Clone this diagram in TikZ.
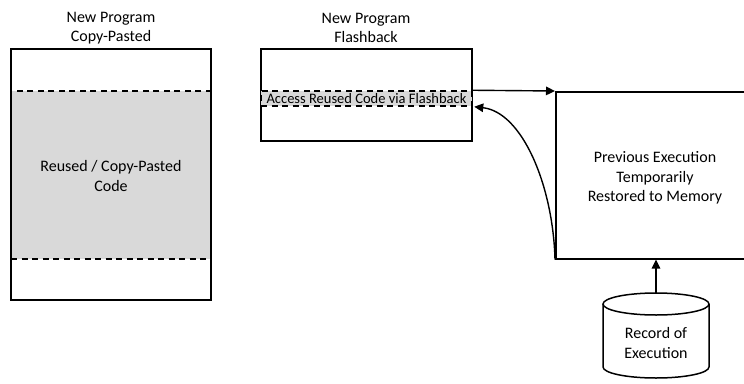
\documentclass[tikz,border=0pt]{standalone}
\usepackage{fontspec}
\setmainfont{Carlito}
\usetikzlibrary{arrows.meta}
\definecolor{shade}{HTML}{D9D9D9}
\tikzset{
  box/.style={draw=black, line width=1.5pt},
  dashbox/.style={draw=black, fill=shade, line width=1.5pt, dash pattern=on 6pt off 4.5pt},
  label/.style={align=center, font=\fontsize{16}{19.3}\selectfont, inner sep=0pt},
  arr/.style={line width=1.4pt, -{Triangle[length=9pt,width=8.5pt]}},
}
\begin{document}
\begin{tikzpicture}[x=1pt, y=-1pt]
\useasboundingbox (0,0) rectangle (744,383);
\clip (0,0) rectangle (744,383);

% left column: copy-pasted program
\node[label] (t1) at (111,28) {New Program\\Copy-Pasted};
\node[dashbox, minimum width=200pt, minimum height=168pt, inner sep=0pt] (reuse) at (111,175) {};
\node[box, minimum width=200pt, minimum height=251pt, inner sep=0pt] (prog1) at (111,174.5) {};
\node[label] (reusetxt) at (111,176) {Reused / Copy-Pasted\\Code};

% middle column: program using flashback
\node[label] (t2) at (366,28) {New Program\\Flashback};
\node[box, minimum width=211pt, minimum height=92pt, inner sep=0pt] (prog2) at (366.5,95) {};
\node[dashbox, minimum width=211pt, minimum height=15pt, inner sep=0pt,
      font=\fontsize{14.5}{17}\selectfont] (strip) at (366.5,98.5) {Access Reused Code via Flashback};

% right: restored execution
\node[box, minimum width=200pt, minimum height=167pt, inner sep=0pt, anchor=north west] (mem) at (555,91) {};
\node[label] (memtxt) at (655,178) {Previous Execution\\Temporarily\\Restored to Memory};

% record of execution (cylinder)
\draw[line width=1.5pt, fill=white] (603,304) -- (603,367)
  arc[start angle=180, end angle=360, x radius=53pt, y radius=11pt] -- (709,304);
\draw[line width=1.5pt] (656,304) ellipse [x radius=53pt, y radius=11pt];
\coordinate (cyltop) at (656,293);
\node[label] (rec) at (656,343) {Record of\\Execution};

% connectors
\draw[arr] (strip.north east) -- (mem.north west);
\draw[arr] (mem.south west) .. controls (553,185) and (522,112) .. ([xshift=1.5pt]strip.south east);
\draw[arr] (cyltop) -- (cyltop |- mem.south);
\end{tikzpicture}
\end{document}
